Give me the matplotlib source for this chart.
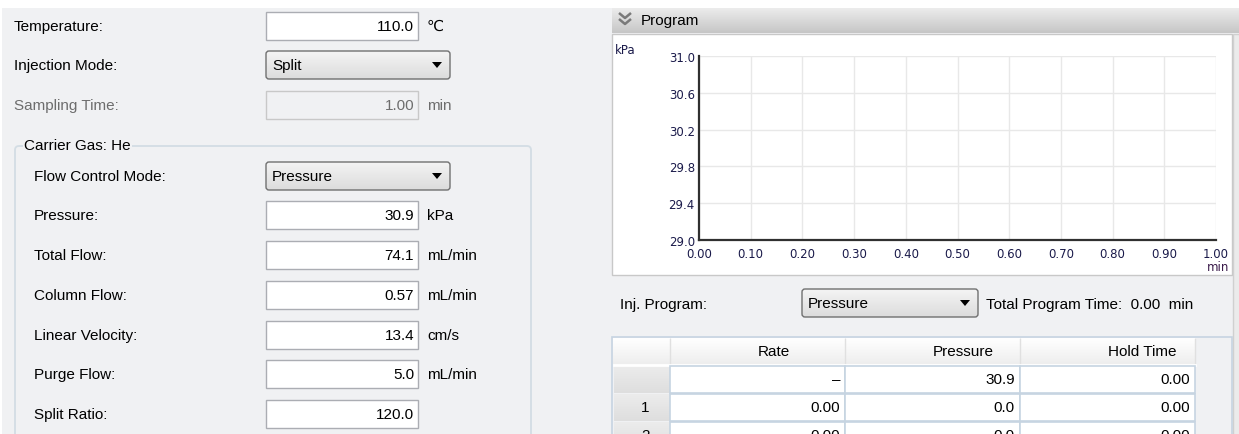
import numpy as np
import matplotlib
matplotlib.use("Agg")
import matplotlib.pyplot as plt
from matplotlib.patches import Rectangle, FancyBboxPatch, Polygon
from matplotlib.colors import LinearSegmentedColormap

# left panel fields
field_labels = ["Temperature:", "Injection Mode:", "Sampling Time:", "Flow Control Mode:",
                "Pressure:", "Total Flow:", "Column Flow:", "Linear Velocity:",
                "Purge Flow:", "Split Ratio:"]
field_values = ["110.0", "Split", "1.00", "Pressure", "30.9", "74.1", "0.57", "13.4", "5.0", "120.0"]
field_units = ["\u2103", "", "min", "", "kPa", "mL/min", "mL/min", "cm/s", "mL/min", ""]
combo_fields = ["Injection Mode:", "Flow Control Mode:"]
disabled_fields = ["Sampling Time:"]
group_title = "Carrier Gas: He"

# program chart
time_ticks = [0.00, 0.10, 0.20, 0.30, 0.40, 0.50, 0.60, 0.70, 0.80, 0.90, 1.00]
pressure_ticks = [29.0, 29.4, 29.8, 30.2, 30.6, 31.0]

# program table
table_columns = ["Rate", "Pressure", "Hold Time"]
row_names = ["", "1", "2"]
rate_values = ["\u2013", "0.00", "0.00"]
pressure_values = ["30.9", "0.0", "0.0"]
hold_values = ["0.00", "0.00", "0.00"]
inj_program = "Pressure"
total_time = "0.00"

W, H = 1239, 435
BG = "#f0f1f3"
FONT = ["Liberation Sans", "DejaVu Sans"]
AXFONT = "DejaVu Sans"

fig = plt.figure(figsize=(W / 100, H / 100), dpi=100)
fig.patch.set_facecolor("white")
ui = fig.add_axes([0, 0, 1, 1])
ui.set_axis_off()


def gradient(x0, y0, x1, y1, top, bottom, clip=None, z=2):
    cmap = LinearSegmentedColormap.from_list("g", [top, bottom])
    im = ui.imshow(np.linspace(0, 1, 64).reshape(-1, 1), extent=(x0, x1, y1, y0),
                   cmap=cmap, aspect="auto", zorder=z, interpolation="bilinear")
    if clip is not None:
        im.set_clip_path(clip)


def txt(x, y, s, size=11, **kw):
    kw.setdefault("va", "center")
    kw.setdefault("color", "black")
    ui.text(x, y, s, fontsize=size, family=FONT, zorder=6, **kw)


def combo(x0, x1, yc, value):
    box = FancyBboxPatch((x0, yc - 14), x1 - x0, 28, boxstyle="round,pad=0,rounding_size=3",
                         fc="none", ec="#707070", lw=1.0, zorder=4)
    ui.add_patch(box)
    gradient(x0, yc - 14, x1, yc + 14, "#f4f4f4", "#dcdcdc", clip=box, z=3)
    txt(x0 + 6, yc, value)
    ui.add_patch(Polygon([[x1 - 18, yc - 3], [x1 - 8, yc - 3], [x1 - 13, yc + 3]],
                         closed=True, fc="black", ec="none", zorder=5))


# backgrounds
ui.add_patch(Rectangle((2, 9), W, H, fc=BG, ec="none", zorder=0))

# group box
ui.add_patch(FancyBboxPatch((15, 147), 516, 320, boxstyle="round,pad=0,rounding_size=4",
                            fc="none", ec="#d3dde4", lw=1.3, zorder=1))
txt(24, 146, group_title, bbox=dict(fc=BG, ec="none", pad=1))

rows_y = [27, 66, 106, 177, 216, 256, 296, 336, 375, 415]
for i, (lab, val, unit) in enumerate(zip(field_labels, field_values, field_units)):
    y = rows_y[i]
    inside = i >= 3
    gray = lab in disabled_fields
    txt(34 if inside else 14, y, lab, color="#6d6d6d" if gray else "black")
    if lab in combo_fields:
        combo(266, 450, y, val)
        continue
    ui.add_patch(Rectangle((266, y - 14), 152, 28, fc=BG if gray else "white",
                           ec="#c8c8c8" if gray else "#abadb3", lw=1.0, zorder=3))
    txt(414, y, val, ha="right", color="#6d6d6d" if gray else "black")
    if unit:
        txt(427, y, unit, color="#6d6d6d" if gray else "black")

# program header bar
gradient(612, 9, W, 34, "#ececec", "#c6c6c6", z=1)
for dy in (0, 6):
    ui.plot([619, 625, 631], [14 + dy, 19 + dy, 14 + dy], color="#7a7a7a", lw=1.8,
            solid_capstyle="butt", zorder=3)
txt(641, 21, "Program", size=11)

# chart frame
ui.add_patch(Rectangle((612, 35), 620, 241, fc="white", ec="#c8c8c8", lw=1.0, zorder=1))
ui.add_patch(Rectangle((1233, 35), 10, 420, fc="#ebebeb", ec="#d0d0d0", lw=1.0, zorder=1))
ui.text(615, 50, "kPa", fontsize=8.5, family=AXFONT, color="#1a1a4a", va="center", zorder=6)
ui.text(1229, 268, "min", fontsize=8.5, family=AXFONT, color="#3a1a4a",
        ha="right", va="center", zorder=6)

# injection program row
txt(620, 305, "Inj. Program:")
combo(802, 978, 304, inj_program)
txt(986, 305, "Total Program Time:  " + total_time + "  min")

# table
col_x = [612, 670, 845, 1020, 1195]
row_y = [366, 394, 422, 450]
GRID = "#c6d4e1"
ui.add_patch(Rectangle((612, 338), 620, 130, fc=BG, ec=GRID, lw=1.2, zorder=1))
for c in range(4):
    x0, x1 = col_x[c], col_x[c + 1]
    gradient(x0 + 1, 339, x1, 365, "#ffffff", "#eeeeee", z=2)
    ui.plot([x1, x1], [340, 365], color="#e0e0e0", lw=1, zorder=3)
    if c > 0:
        txt((x0 + x1) / 2, 352, table_columns[c - 1], size=11)
ui.plot([614, 1195], [365.5, 365.5], color="white", lw=2, zorder=3)

cols = [rate_values, pressure_values, hold_values]
for r in range(3):
    y0, y1 = row_y[r] + 1, row_y[r + 1]
    gradient(col_x[0] + 2, y0, col_x[1], y1, "#ececec", "#dedede", z=2)
    txt((col_x[0] + col_x[1]) / 2, (y0 + y1) / 2, row_names[r])
    for c in range(3):
        x0, x1 = col_x[c + 1], col_x[c + 2]
        ui.add_patch(Rectangle((x0, y0), x1 - x0, y1 - y0, fc="white", ec=GRID,
                               lw=1.2, zorder=3))
        txt(x1 - 5, (y0 + y1) / 2, cols[c][r], ha="right")

ui.set_xlim(0, W)
ui.set_ylim(H, 0)

# the program chart
ax = fig.add_axes([699 / W, (H - 241) / H, 517 / W, 184 / H])
ax.patch.set_visible(False)
ax.set_xlim(time_ticks[0], time_ticks[-1])
ax.set_ylim(pressure_ticks[0], pressure_ticks[-1])
ax.set_xticks(time_ticks)
ax.set_xticklabels([f"{t:.2f}" for t in time_ticks], family=AXFONT)
ax.set_yticks(pressure_ticks)
ax.set_yticklabels([f"{p:.1f}" for p in pressure_ticks], family=AXFONT)
ax.grid(True, color="#e8e8e8", lw=1.0)
ax.set_axisbelow(True)
for s in ("top", "right"):
    ax.spines[s].set_visible(False)
for s in ("left", "bottom"):
    ax.spines[s].set_color("#303030")
    ax.spines[s].set_linewidth(1.6)
ax.tick_params(length=0, labelsize=8.5, labelcolor="#1a1a4a", pad=3)
ax.tick_params(axis="x", pad=5)

fig.savefig("out.png", dpi=100, facecolor="white")
